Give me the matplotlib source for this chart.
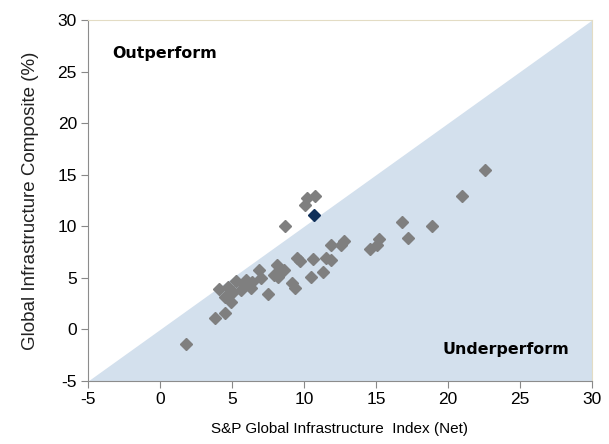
import numpy as np
import matplotlib
matplotlib.use("Agg")
import matplotlib.pyplot as plt

# index returns (x) vs composite returns (y)
index_ret = [1.8, 3.8, 4.5, 4.1, 4.5, 4.9, 5.1, 5.3, 5.8, 6.0, 6.3, 6.4, 6.9, 7.5,
             7.9, 8.1, 8.2, 8.6, 8.7, 9.2, 9.4, 9.5, 9.7, 10.2, 10.1, 10.8,
             10.5, 10.6, 11.3, 11.5, 11.9, 11.9, 12.6, 12.8, 14.6, 15.1, 15.2,
             16.8, 17.2, 18.9, 21.0, 22.6, 5.6, 7.0, 4.7]
comp_ret = [-1.4, 1.1, 1.6, 3.9, 3.1, 2.7, 3.6, 4.7, 4.3, 4.8, 4.0, 4.6, 5.8, 3.4,
            5.3, 6.2, 5.1, 5.8, 10.0, 4.5, 4.0, 6.9, 6.6, 12.7, 12.1, 12.9,
            5.1, 6.8, 5.6, 6.9, 6.7, 8.2, 8.2, 8.6, 7.8, 8.2, 8.8,
            10.4, 8.9, 10.0, 12.9, 15.5, 3.8, 5.0, 4.1]
highlight = (10.7, 11.1)

ticks = [-5, 0, 5, 10, 15, 20, 25, 30]

plt.rcParams['font.family'] = ['Liberation Sans', 'DejaVu Sans']
plt.rcParams['axes.unicode_minus'] = False

fig = plt.figure(figsize=(6.09, 4.44), dpi=100)
ax = fig.add_axes([0.1445, 0.1419, 0.8275, 0.8131])

# shaded underperform region below the y = x line
ax.fill_between([-5, 30], [-5, 30], -5, color='#d3e0ed', linewidth=0, zorder=0)

ax.plot(index_ret, comp_ret, linestyle='none', marker='D', markersize=6.5,
        color='#7f7f7f', zorder=2)
ax.plot([highlight[0]], [highlight[1]], linestyle='none', marker='D', markersize=6.5,
        color='#10305a', zorder=3)

ax.set_xlim(-5, 30)
ax.set_ylim(-5, 30)
ax.set_xticks(ticks)
ax.set_yticks(ticks)
ax.tick_params(direction='out', length=5, color='#888888', labelsize=12.5, pad=3)

for side in ['left', 'bottom']:
    ax.spines[side].set_color('#8c8c8c')
for side in ['top', 'right']:
    ax.spines[side].set_color('#e3dcc4')

ax.set_xlabel('S&P Global Infrastructure  Index (Net)', fontsize=11, labelpad=11)
ax.set_ylabel('Global Infrastructure Composite (%)', fontsize=13.5, labelpad=13,
              color='#222222')

ax.text(-3.3, 26.3, 'Outperform', fontsize=11.4, fontweight='bold', family='DejaVu Sans')
ax.text(19.6, -2.4, 'Underperform', fontsize=11.4, fontweight='bold', family='DejaVu Sans')

fig.savefig('out.png', dpi=100)
